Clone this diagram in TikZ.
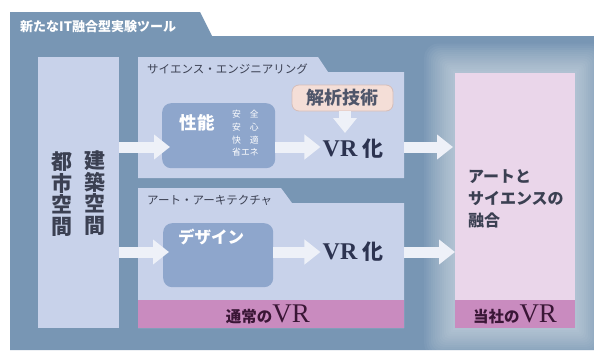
\documentclass[tikz,border=0pt]{standalone}
\usepackage{fontspec}
\newfontfamily\jp{Noto Sans CJK JP}
\newfontfamily\vrfont{Liberation Serif}
\usetikzlibrary{arrows.meta}
\newcommand\myfs[1]{\fontsize{#1}{#1}\selectfont}
\definecolor{panel}{HTML}{7896B4}
\definecolor{inner}{HTML}{C8D2EA}
\definecolor{roundbox}{HTML}{8EA6CC}
\definecolor{anabox}{HTML}{F4DED7}
\definecolor{anaedge}{HTML}{D6BDB8}
\definecolor{pinklight}{HTML}{EAD6EA}
\definecolor{pinkbar}{HTML}{C98BBF}
\definecolor{darktext}{HTML}{3B4052}
\definecolor{anatext}{HTML}{4F566A}
\definecolor{vrtext}{HTML}{2C3350}
\definecolor{purpletext}{HTML}{3A1636}
\definecolor{arrowcol}{HTML}{EEF1F8}
\begin{document}
\begin{tikzpicture}[x=1pt,y=-1pt,
  plainbox/.style={fill=#1, draw=none, inner sep=0pt, anchor=north west},
  rbox/.style={fill=roundbox, draw=none, rounded corners=9pt, inner sep=0pt, anchor=north west},
  blockarrow/.style={draw=arrowcol, line width=11pt, -{Triangle[width=24pt,length=16pt]}, arrowcol},
  tablabel/.style={font=\jp\myfs{11.5}, text=darktext, anchor=west, inner sep=0pt},
  vrlabel/.style={inner sep=0pt, text=vrtext},
  barlabel/.style={inner sep=0pt, text=purpletext}]
\useasboundingbox (0,0) rectangle (594,351);
\fill[white] (0,0) rectangle (594,351);
% outer panel with tab
\path[fill=panel] (10,12) -- (200,12) -- (212,36) -- (594,36) -- (594,350) -- (10,350) -- cycle;
\begin{scope}
  \clip (10,36) rectangle (594,350);
  \foreach \i in {1,...,14} {
    \fill[white,opacity=0.042,rounded corners=\i pt] (455-2.2*\i,73-2.1*\i) rectangle (575+2.2*\i,328+2.1*\i);
  }
\end{scope}
\node[anchor=west, inner sep=0pt, text=white, font=\jp\bfseries\myfs{13}] (title) at (20,27) {新たなIT融合型実験ツール};
% left column
\node[plainbox=inner, minimum width=81pt, minimum height=271pt] (city) at (38,57) {};
\node[inner sep=0pt, text=darktext, font=\jp\bfseries\myfs{21}, align=center] (kenchiku) at (95,193) {建\\[0.5pt]築\\[0.5pt]空\\[0.5pt]間};
\node[inner sep=0pt, text=darktext, font=\jp\bfseries\myfs{21}, align=center] (toshi) at (62,194) {都\\[0.5pt]市\\[0.5pt]空\\[0.5pt]間};
% science-engineering box
\fill[inner] (138,57) -- (318,57) -- (328,72) -- (404,72) -- (404,178) -- (138,178) -- cycle;
\node[plainbox=inner, minimum width=266pt, minimum height=106pt] (sci) at (138,72) {};
\node[tablabel] (scilabel) at (147,69) {サイエンス・エンジニアリング};
% art-architecture box
\fill[inner] (138,188) -- (281,188) -- (292,203) -- (404,203) -- (404,328) -- (138,328) -- cycle;
\node[plainbox=inner, minimum width=266pt, minimum height=125pt] (art) at (138,203) {};
\node[tablabel] (artlabel) at (147,200) {アート・アーキテクチャ};
\node[plainbox=pinkbar, minimum width=266pt, minimum height=28pt] (bar1) at (138,300) {};
\node[barlabel] (bar1text) at (268,314) {{\jp\bfseries\myfs{15.5}通常の}{\vrfont\myfs{27}VR}};
% right pink box
\node[plainbox=pinklight, minimum width=120pt, minimum height=227pt] (pink) at (455,73) {};
\node[plainbox=pinkbar, minimum width=120pt, minimum height=28pt] (bar2) at (455,300) {};
\node[barlabel] (bar2text) at (515,314) {{\jp\bfseries\myfs{15.5}当社の}{\vrfont\myfs{27}VR}};
\node[anchor=north west, inner sep=0pt, font=\jp\bfseries\myfs{16}, align=left, text=darktext] (fusion) at (468,169) {アートと\\[6pt]サイエンスの\\[6pt]融合};
% performance box
\node[rbox, minimum width=113pt, minimum height=65pt] (perf) at (162,103) {};
\node[inner sep=0pt, text=white, font=\jp\bfseries\myfs{17.5}] (perftext) at (197,123) {性能};
\node[anchor=north west, inner sep=0pt, text=white, font=\jp\myfs{8.8}, align=left] (safety) at (232,110) {安　全\\[3.9pt]安　心\\[3.9pt]快　適\\[3.9pt]省エネ};
% design box
\node[rbox, minimum width=110pt, minimum height=64pt] (design) at (163,223) {};
\node[inner sep=0pt, text=white, font=\jp\bfseries\myfs{16.5}] (designtext) at (211,237) {デザイン};
% analysis box
\node[fill=anabox, draw=anaedge, line width=0.8pt, rounded corners=7pt, minimum width=101pt, minimum height=26pt, inner sep=0pt, font=\jp\bfseries\myfs{18}, text=anatext] (ana) at (342.5,98) {解析技術};
% VR labels
\node[vrlabel] (vr1) at (353,149) {{\vrfont\bfseries\myfs{24}VR}\hspace{5pt}{\jp\bfseries\myfs{21}化}};
\node[vrlabel] (vr2) at (353,252) {{\vrfont\bfseries\myfs{24}VR}\hspace{5pt}{\jp\bfseries\myfs{21}化}};
% arrows
\coordinate (r1) at (0,147);
\coordinate (r2) at (0,252);
\coordinate (downtip) at (345,133);
\draw[blockarrow] (city.east |- r1) -- ([xshift=8pt]perf.west |- r1);
\draw[blockarrow] (perf.east |- r1) -- ([xshift=-2pt]vr1.west |- r1);
\draw[blockarrow] (sci.east |- r1) -- ([xshift=-2pt]pink.west |- r1);
\draw[blockarrow] (city.east |- r2) -- ([xshift=6pt]design.west |- r2);
\draw[blockarrow] (design.east |- r2) -- ([xshift=-2pt]vr2.west |- r2);
\draw[blockarrow] (art.east |- r2) -- ([xshift=0pt]pink.west |- r2);
\draw[blockarrow, line width=12pt, -{Triangle[width=23pt,length=15pt]}] (ana.south -| downtip) -- (downtip);
\end{tikzpicture}
\end{document}
